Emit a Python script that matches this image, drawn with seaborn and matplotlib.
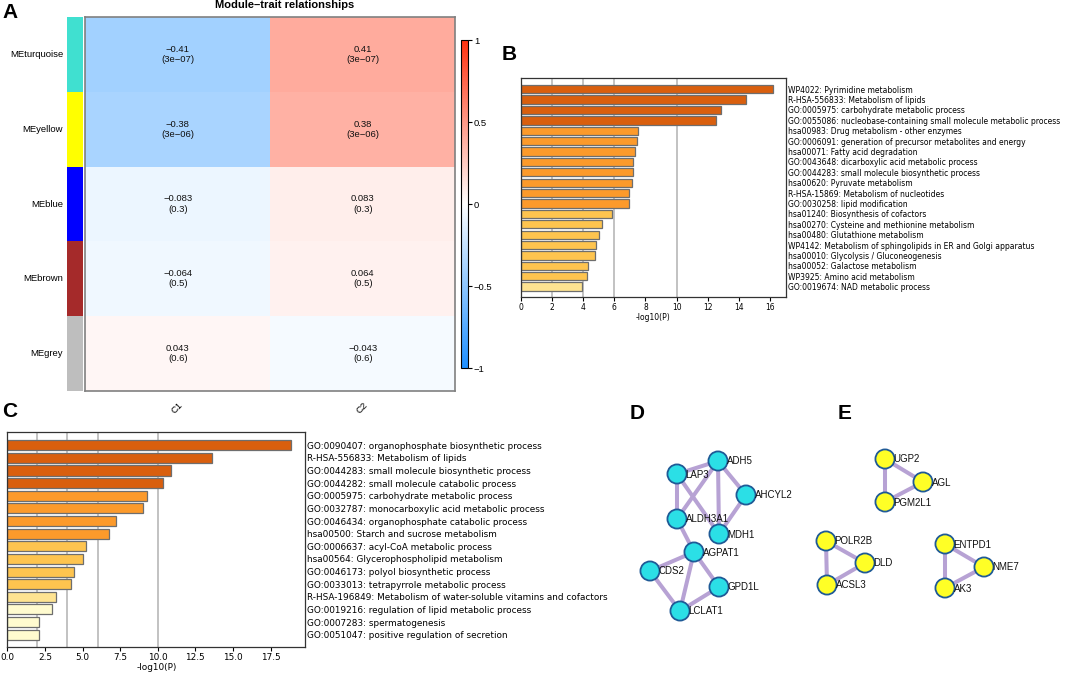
import numpy as np
import pandas as pd
import matplotlib
matplotlib.use("Agg")
import matplotlib.pyplot as plt
import seaborn as sns
from matplotlib.colors import LinearSegmentedColormap, ListedColormap

sns.set_style("white")
plt.rcParams['font.family'] = ['DejaVu Sans']
plt.rcParams['text.color'] = 'black'
plt.rcParams['axes.labelcolor'] = 'black'
plt.rcParams['xtick.color'] = 'black'
plt.rcParams['ytick.color'] = 'black'

# ---- panel A: module-trait correlations
modules = ['MEturquoise', 'MEyellow', 'MEblue', 'MEbrown', 'MEgrey']
module_colors = ['#40E0D0', '#FFFF00', '#0000FF', '#A52A2A', '#BEBEBE']
traits = ['C1', 'C2']
cor_c1 = [-0.41, -0.38, -0.083, -0.064, 0.043]
cor_c2 = [0.41, 0.38, 0.083, 0.064, -0.043]
pvals = ['3e-07', '3e-06', '0.3', '0.5', '0.6']

# ---- panel B: enrichment (yellow module)
terms_b = ['WP4022: Pyrimidine metabolism',
           'R-HSA-556833: Metabolism of lipids',
           'GO:0005975: carbohydrate metabolic process',
           'GO:0055086: nucleobase-containing small molecule metabolic process',
           'hsa00983: Drug metabolism - other enzymes',
           'GO:0006091: generation of precursor metabolites and energy',
           'hsa00071: Fatty acid degradation',
           'GO:0043648: dicarboxylic acid metabolic process',
           'GO:0044283: small molecule biosynthetic process',
           'hsa00620: Pyruvate metabolism',
           'R-HSA-15869: Metabolism of nucleotides',
           'GO:0030258: lipid modification',
           'hsa01240: Biosynthesis of cofactors',
           'hsa00270: Cysteine and methionine metabolism',
           'hsa00480: Glutathione metabolism',
           'WP4142: Metabolism of sphingolipids in ER and Golgi apparatus',
           'hsa00010: Glycolysis / Gluconeogenesis',
           'hsa00052: Galactose metabolism',
           'WP3925: Amino acid metabolism',
           'GO:0019674: NAD metabolic process']
logp_b = [16.19, 14.48, 12.82, 12.56, 7.50, 7.48, 7.31, 7.18, 7.18, 7.11,
          6.96, 6.96, 5.83, 5.23, 5.04, 4.83, 4.76, 4.29, 4.23, 3.91]

# ---- panel C: enrichment (turquoise module)
terms_c = ['GO:0090407: organophosphate biosynthetic process',
           'R-HSA-556833: Metabolism of lipids',
           'GO:0044283: small molecule biosynthetic process',
           'GO:0044282: small molecule catabolic process',
           'GO:0005975: carbohydrate metabolic process',
           'GO:0032787: monocarboxylic acid metabolic process',
           'GO:0046434: organophosphate catabolic process',
           'hsa00500: Starch and sucrose metabolism',
           'GO:0006637: acyl-CoA metabolic process',
           'hsa00564: Glycerophospholipid metabolism',
           'GO:0046173: polyol biosynthetic process',
           'GO:0033013: tetrapyrrole metabolic process',
           'R-HSA-196849: Metabolism of water-soluble vitamins and cofactors',
           'GO:0019216: regulation of lipid metabolic process',
           'GO:0007283: spermatogenesis',
           'GO:0051047: positive regulation of secretion']
logp_c = [18.87, 13.63, 10.91, 10.38, 9.29, 9.03, 7.21, 6.77,
          5.20, 5.02, 4.45, 4.25, 3.21, 2.94, 2.08, 2.08]

# ---- panels D/E: PPI networks (layout positions in pixels)
genes = ['ADH5', 'LAP3', 'AHCYL2', 'ALDH3A1', 'MDH1', 'AGPAT1', 'CDS2', 'GPD1L', 'LCLAT1',
         'UGP2', 'AGL', 'PGM2L1', 'POLR2B', 'DLD', 'ACSL3', 'ENTPD1', 'NME7', 'AK3']
gene_x = [718, 677, 746, 677, 719, 694, 650, 719, 680,
          885, 923, 885, 826, 865, 827, 945, 984, 945]
gene_y = [461, 474, 495, 519, 534, 552, 571, 587, 611,
          459, 482, 502, 541, 563, 585, 544, 567, 588]
gene_module = ['turquoise'] * 9 + ['yellow'] * 9
edges = [('LAP3', 'ADH5'), ('LAP3', 'ALDH3A1'), ('LAP3', 'MDH1'), ('ADH5', 'ALDH3A1'),
         ('ADH5', 'MDH1'), ('ADH5', 'AHCYL2'), ('AHCYL2', 'MDH1'), ('ALDH3A1', 'AGPAT1'),
         ('AGPAT1', 'CDS2'), ('AGPAT1', 'LCLAT1'), ('AGPAT1', 'GPD1L'), ('CDS2', 'LCLAT1'),
         ('LCLAT1', 'GPD1L'),
         ('UGP2', 'AGL'), ('UGP2', 'PGM2L1'), ('AGL', 'PGM2L1'),
         ('POLR2B', 'DLD'), ('POLR2B', 'ACSL3'), ('DLD', 'ACSL3'),
         ('ENTPD1', 'NME7'), ('ENTPD1', 'AK3'), ('NME7', 'AK3')]

W, H = 1072, 678


def box(x0, y0, x1, y1):
    # pixel box (top-left origin) -> figure fraction rect
    return [x0 / W, 1 - y1 / H, (x1 - x0) / W, (y1 - y0) / H]


def bin_color(v):
    if v >= 10:
        return '#D95F0E'
    if v >= 6:
        return '#FC9A2B'
    if v >= 4:
        return '#FEC44F'
    if v >= 3:
        return '#FEE391'
    return '#FFFBCF'


def enrich(ax, terms, vals, fs, ticks):
    df = pd.DataFrame({'term': terms, 'logp': vals})
    pal = {t: bin_color(v) for t, v in zip(terms, vals)}
    for g in [2, 4, 6, 10]:
        ax.axvline(g, color='#BDBDBD', lw=1.3, zorder=0)
    sns.barplot(data=df, x='logp', y='term', hue='term', palette=pal, legend=False,
                orient='h', width=0.8, saturation=1, edgecolor='#6E6E6E',
                linewidth=0.9, ax=ax, zorder=2)
    ax.set_xlim(0, max(vals) * 1.05)
    ax.set_ylim(len(terms) - 0.05, -1.05)
    ax.set_xticks(ticks)
    ax.yaxis.tick_right()
    ax.tick_params(axis='y', length=0, pad=1.5, labelsize=fs)
    ax.tick_params(axis='x', bottom=True, length=3, width=0.8, labelsize=fs, pad=1.5)
    ax.set_ylabel('')
    ax.set_xlabel('-log10(P)', fontsize=fs, labelpad=1)
    for s in ax.spines.values():
        s.set_color('#333333')
        s.set_linewidth(0.9)


fig = plt.figure(figsize=(10.72, 6.78), dpi=100)
arial = 'Liberation Sans'

# ---------- A
cmap = LinearSegmentedColormap.from_list('bwr', ['#1E8FFF', '#FFFFFF', '#FF3311'])
cor_df = pd.DataFrame({'C1': cor_c1, 'C2': cor_c2}, index=modules)
annot = np.array([[f"{c:g}\n({p})".replace('-', '\u2212') for c in row]
                  for row, p in zip(cor_df.values, pvals)])

ax_hm = fig.add_axes(box(85.3, 17.3, 455.3, 390.7))
ax_strip = fig.add_axes(box(66.7, 17.3, 82.7, 390.7))
ax_cb = fig.add_axes(box(461, 40, 468.3, 368))

sns.heatmap(cor_df, ax=ax_hm, cmap=cmap, vmin=-1, vmax=1, annot=annot, fmt='',
            annot_kws=dict(fontsize=6.8, color='#111111', family=arial),
            cbar_ax=ax_cb, yticklabels=False)
ax_hm.set_xticklabels(traits, rotation=45, ha='right', rotation_mode='anchor',
                      fontsize=6.8, family=arial)
ax_hm.tick_params(axis='x', length=0, pad=7)
for sp in ax_hm.spines.values():
    sp.set_visible(True)
    sp.set_color('#808080')
    sp.set_linewidth(1.2)

cb = ax_hm.collections[0].colorbar
cb.outline.set_edgecolor('black')
cb.outline.set_linewidth(0.8)
cb.set_ticks([-1, -0.5, 0, 0.5, 1])
cb.set_ticklabels(['\u22121', '\u22120.5', '0', '0.5', '1'])
ax_cb.tick_params(length=3, width=0.8, labelsize=6.8, pad=1)
for t in ax_cb.get_yticklabels():
    t.set_family(arial)

strip_df = pd.DataFrame({'m': np.arange(len(modules))}, index=modules)
sns.heatmap(strip_df, ax=ax_strip, cmap=ListedColormap(module_colors), cbar=False,
            xticklabels=False)
ax_strip.set_ylabel('')
ax_strip.set_yticklabels(modules, rotation=0, fontsize=6.8, family=arial)
ax_strip.tick_params(axis='y', length=0, pad=2.5)

fig.text(285 / W, 1 - 8.5 / H, 'Module\u2013trait relationships', ha='center',
         va='baseline', fontsize=8, fontweight='bold', family=arial)

# ---------- B
ax_b = fig.add_axes(box(520.7, 78.3, 785.7, 296.5))
enrich(ax_b, terms_b, logp_b, 5.5, list(range(0, 17, 2)))

# ---------- C
ax_c = fig.add_axes(box(7.3, 432, 305.3, 646.7))
enrich(ax_c, terms_c, logp_c, 6.4, [0, 2.5, 5, 7.5, 10, 12.5, 15, 17.5])

# ---------- D / E networks
ax_n = fig.add_axes(box(590, 420, 1072, 678))
ax_n.set_xlim(590, 1072)
ax_n.set_ylim(678, 420)
ax_n.axis('off')
pos = {g: (x, y) for g, x, y in zip(genes, gene_x, gene_y)}
for a, b in edges:
    ax_n.plot([pos[a][0], pos[b][0]], [pos[a][1], pos[b][1]], color='#B7A2D4',
              lw=2.9, solid_capstyle='round', zorder=1)
net_df = pd.DataFrame({'gene': genes, 'x': gene_x, 'y': gene_y, 'module': gene_module})
sns.scatterplot(data=net_df, x='x', y='y', hue='module',
                palette={'turquoise': '#2BDFE6', 'yellow': '#FFFF26'},
                s=190, edgecolor='#1F5A96', linewidth=1.3, legend=False, ax=ax_n, zorder=2)
for g, x, y in zip(genes, gene_x, gene_y):
    ax_n.text(x + 8.5, y + 0.5, g, va='center', ha='left', fontsize=7, family=arial,
              color='#111111', zorder=3)
ax_n.set_xlabel('')
ax_n.set_ylabel('')

# ---------- panel letters
for lab, x, y in [('A', 2, 18), ('B', 502, 60), ('C', 2, 417), ('D', 630, 419), ('E', 838, 419)]:
    fig.text(x / W, 1 - y / H, lab, ha='left', va='baseline', fontsize=15,
             fontweight='bold', family=arial)

fig.savefig('out.png', dpi=100)
